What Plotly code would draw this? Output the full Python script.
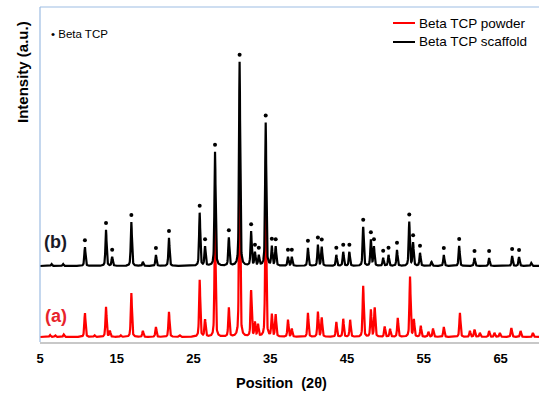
import numpy as np
import plotly.graph_objects as go

# ---------------- data ----------------
# 2-theta range of the scan
scan_start = 5.0
scan_end = 70.0

# Beta TCP powder (a): peak positions (deg 2θ) and heights (a.u.)
powder_pos = [6.3, 7.0, 8.1, 10.85, 12.1, 13.6, 14.1, 15.5, 16.9, 18.4, 20.1, 21.8, 23.2,
              25.8, 26.5, 27.8, 29.6, 31.0, 32.5, 33.0, 33.4, 34.4, 35.2, 35.7, 37.3, 37.8,
              39.9, 41.2, 41.7, 43.6, 44.5, 45.4, 47.1, 48.1, 48.6, 49.9, 50.6, 51.6, 53.2,
              53.7, 54.6, 55.6, 56.2, 57.6, 59.7, 61.0, 61.6, 62.3, 63.5, 64.2, 64.9, 66.4,
              67.6, 69.2]
powder_int = [2, 1.5, 2.5, 24, 1.5, 30, 6, 1.5, 44, 6, 10, 25, 1.5,
              57, 17, 112, 29, 198, 46, 14, 12, 140, 22, 22, 17, 8,
              24, 25, 19, 15, 18, 17, 51, 27, 29, 10, 8, 19, 60,
              17, 11, 5, 8, 10, 24, 6, 7, 4, 6, 4, 4, 9,
              6, 4]

# Beta TCP scaffold (b): peak positions, heights and whether a β-TCP dot marks them
scaffold_pos = [6.5, 8.0, 10.85, 13.6, 14.4, 16.9, 18.4, 20.1, 21.8, 25.8, 26.5, 27.8,
                29.6, 31.0, 32.5, 33.0, 33.5, 34.4, 35.2, 35.7, 37.3, 37.8, 39.9, 41.2,
                41.7, 43.6, 44.5, 45.3, 47.1, 48.1, 48.5, 49.7, 50.4, 51.5, 53.1, 53.6,
                54.5, 56.0, 57.6, 59.6, 61.6, 63.5, 66.5, 67.4, 69.0]
scaffold_int = [2, 2, 19, 36, 9, 44, 4, 11, 28, 53, 19, 114,
                28, 204, 34, 13, 10, 143, 19, 19, 9, 9, 18, 21,
                19, 11, 14, 14, 39, 26, 19, 8, 11, 16, 44, 23,
                13, 4, 11, 20, 8, 8, 10, 9, 3]
scaffold_marked = [False, False, True, True, True, True, False, True, True, True, True, True,
                   True, True, True, True, True, True, True, True, True, True, True, True,
                   True, True, True, True, True, True, True, True, True, True, True, True,
                   True, False, True, True, True, True, True, True, False]

x_ticks = [5, 15, 25, 35, 45, 55, 65]

# baselines of the two stacked patterns (a.u.)
powder_baseline = 5
scaffold_baseline = 76
marker_gap = 7

# ---------------- build profiles ----------------
two_theta = np.arange(scan_start, scan_end + 1e-9, 0.02)


def profile(positions, heights, base, hw=0.09, eta=0.5):
    y = np.full_like(two_theta, float(base))
    for p, h in zip(positions, heights):
        d = (two_theta - p) / hw
        lor = 1.0 / (1.0 + d * d)
        gau = np.exp(-np.log(2) * d * d)
        y += h * (eta * lor + (1 - eta) * gau)
    return y


powder_y = profile(powder_pos, powder_int, powder_baseline)
scaffold_y = profile(scaffold_pos, scaffold_int, scaffold_baseline)

mark_x = [p for p, m in zip(scaffold_pos, scaffold_marked) if m]
mark_y = [float(np.interp(p, two_theta, scaffold_y)) + marker_gap for p in mark_x]

FONT = "Liberation Sans, Arial, sans-serif"

fig = go.Figure()
fig.add_trace(go.Scatter(x=two_theta, y=powder_y, mode="lines",
                         line=dict(color="#ff0000", width=2.2), name="Beta TCP powder",
                         showlegend=False))
fig.add_trace(go.Scatter(x=two_theta, y=scaffold_y, mode="lines",
                         line=dict(color="#000000", width=2.2), name="Beta TCP scaffold",
                         showlegend=False))
fig.add_trace(go.Scatter(x=mark_x, y=mark_y, mode="markers",
                         marker=dict(symbol="circle", size=4, color="#000000"),
                         name="Beta TCP", showlegend=False))

L, R, T, B = 40, 0, 7, 54
W, H = 539, 396
pw, ph = W - L - R, H - T - B


def px(xp):
    return (xp - L) / pw


def py(yp):
    return (H - B - yp) / ph


fig.update_layout(
    width=W, height=H,
    margin=dict(l=L, r=R, t=T, b=B),
    paper_bgcolor="white", plot_bgcolor="white",
    font=dict(family=FONT, color="#000000"),
    xaxis=dict(range=[scan_start, scan_end], tickvals=x_ticks, ticks="",
               showgrid=False, zeroline=False, showline=True, linecolor="#c8c8c8",
               linewidth=1.5, tickfont=dict(size=13, weight="bold", family=FONT),
               ticklabelstandoff=4),
    yaxis=dict(range=[0, ph], showticklabels=False, ticks="", showgrid=False,
               zeroline=False, showline=False),
    showlegend=False,
)

border = "#9dbde3"
fig.add_shape(type="line", xref="paper", yref="paper", x0=0, x1=1, y0=1, y1=1,
              line=dict(color=border, width=1.2))
fig.add_shape(type="line", xref="paper", yref="paper", x0=0, x1=0, y0=0, y1=1,
              line=dict(color=border, width=1.2))

# custom legend (top right)
legend_items = [("Beta TCP powder", "#ff0000", 23), ("Beta TCP scaffold", "#000000", 42)]
for label, col, yp in legend_items:
    fig.add_shape(type="line", xref="paper", yref="paper", x0=px(393), x1=px(415),
                  y0=py(yp), y1=py(yp), line=dict(color=col, width=2))
    fig.add_annotation(text=label, xref="paper", yref="paper", x=px(417), y=py(yp),
                       xanchor="left", yanchor="middle", showarrow=False,
                       font=dict(size=13.5, family=FONT, color="#000000"))

fig.add_annotation(text="• Beta TCP", xref="paper", yref="paper", x=px(49), y=py(34),
                   xanchor="left", yanchor="middle", showarrow=False,
                   font=dict(size=11.5, family=FONT, color="#000000"))

fig.add_annotation(text="(b)", xref="paper", yref="paper", x=px(55), y=py(242),
                   xanchor="center", yanchor="middle", showarrow=False,
                   font=dict(size=18, family=FONT, color="#1a1a28", weight="bold"))
fig.add_annotation(text="(a)", xref="paper", yref="paper", x=px(56), y=py(316),
                   xanchor="center", yanchor="middle", showarrow=False,
                   font=dict(size=18, family=FONT, color="#e8232b", weight="bold"))

fig.add_annotation(text="Position  (2θ)", xref="paper", yref="paper", x=px(281), y=py(383),
                   xanchor="center", yanchor="middle", showarrow=False,
                   font=dict(size=14.5, family=FONT, color="#000000", weight="bold"))
fig.add_annotation(text="Intensity (a.u.)", xref="paper", yref="paper", x=px(22), y=py(72),
                   xanchor="center", yanchor="middle", showarrow=False, textangle=-90,
                   font=dict(size=15, family=FONT, color="#000000", weight="bold"))

fig.write_html("out.html", config={"displayModeBar": False},
               post_script="document.body.style.margin='0';")
